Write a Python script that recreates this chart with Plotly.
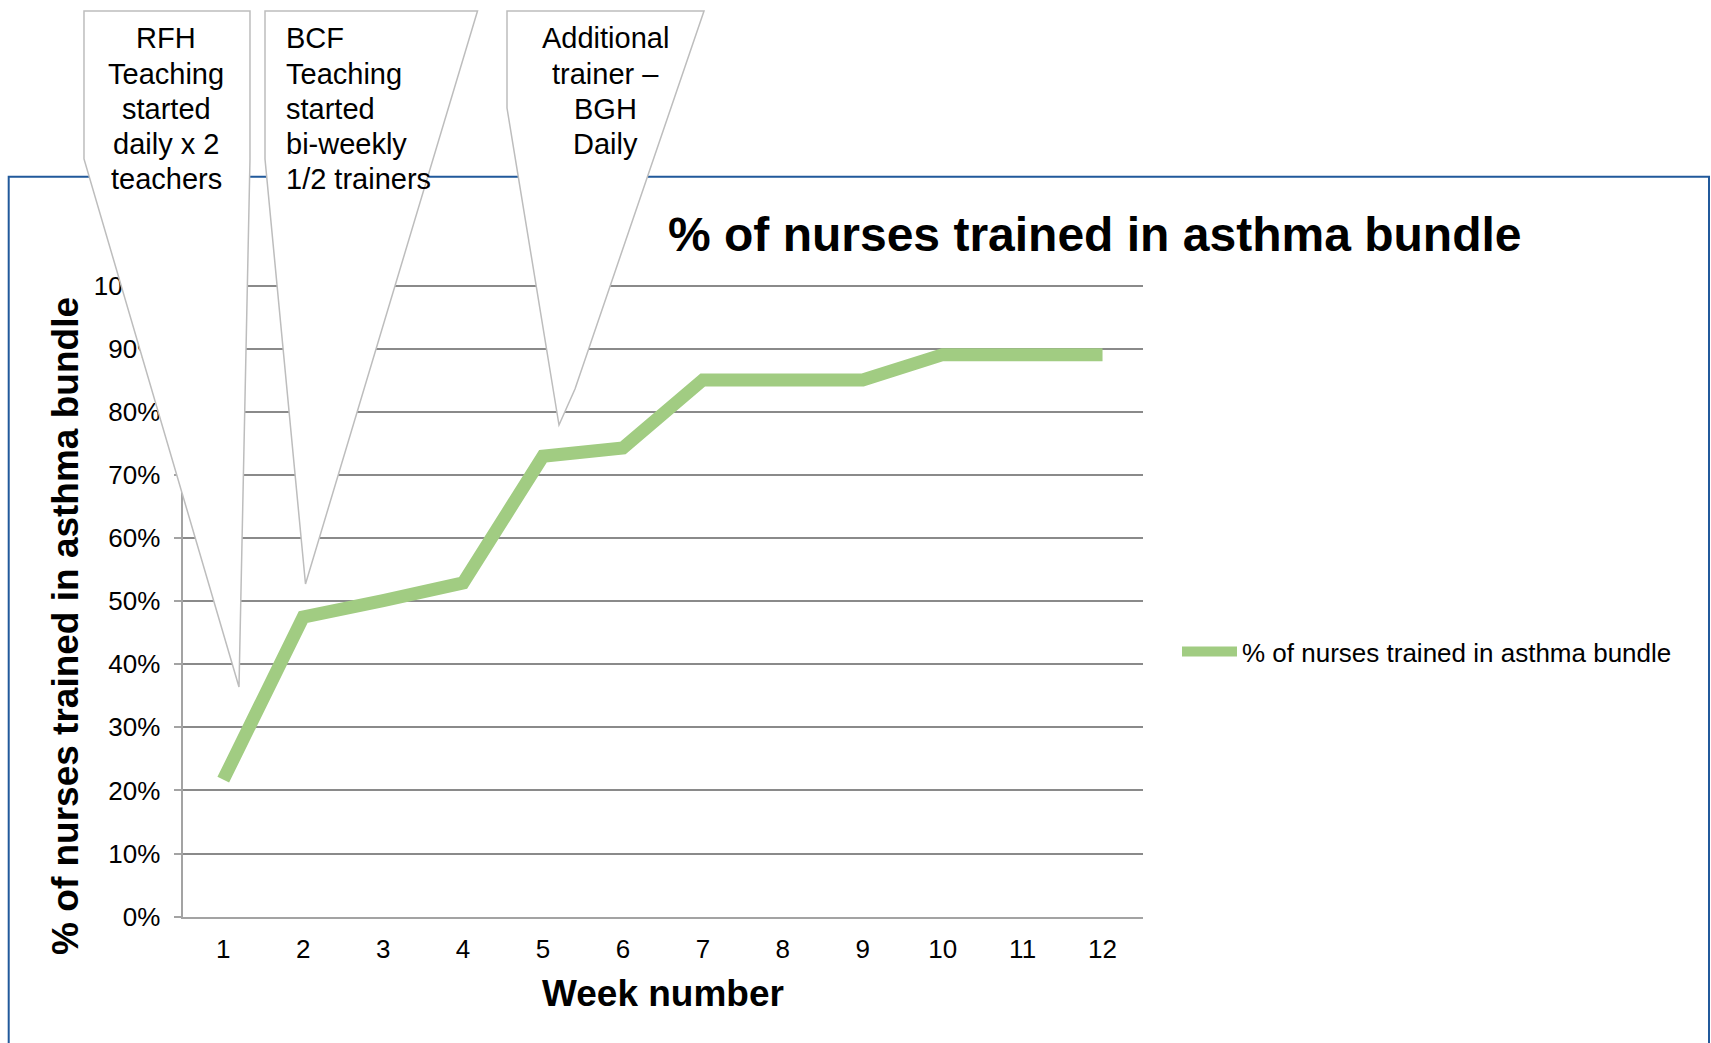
import plotly.graph_objects as go

# ---------------- data ----------------
weeks = list(range(1, 13))
week_labels = [str(w) for w in weeks]
pct_trained = [0.217, 0.475, 0.501, 0.529, 0.730, 0.743,
               0.851, 0.851, 0.851, 0.891, 0.891, 0.891]
series_name = "% of nurses trained in asthma bundle"
y_tick_values = [i / 10 for i in range(11)]

chart_title = "% of nurses trained in asthma bundle"
x_title = "Week number"
y_title = "% of nurses trained in asthma bundle"

callout_rfh = ["RFH", "Teaching", "started", "daily x 2", "teachers"]
callout_bcf = ["BCF", "Teaching", "started", "bi-weekly", "1/2 trainers"]
callout_bgh = ["Additional", "trainer –", "BGH", "Daily"]

# ---------------- layout helpers ----------------
W, H = 1711, 1043
FONT = "Liberation Sans, Arial, Helvetica, sans-serif"


def px(x):
    return x / W


def py(y):
    return 1 - y / H


def path(points):
    return "M " + " L ".join(f"{px(x):.5f},{py(y):.5f}" for x, y in points) + " Z"


GREEN = "#a1cc82"
GRID = "#8a8a8a"
AXIS = "#a3a3a3"
BLUE = "#21599b"
CALLOUT_LINE = "#bdbdbd"

# plot area geometry (pixels)
Y0_PX, Y100_PX = 916.6, 285.9
Y_TOP = 1.002  # small headroom so the 100% gridline is drawn
y_top_px = Y0_PX - (Y0_PX - Y100_PX) * Y_TOP

fig = go.Figure()
fig.add_trace(go.Scatter(
    x=weeks, y=pct_trained, mode="lines", name=series_name,
    line=dict(color=GREEN, width=13),
    showlegend=True,
))

shapes = [
    # outer chart border (blue)
    dict(type="rect", xref="paper", yref="paper",
         x0=px(8.7), x1=px(1709), y0=py(1065), y1=py(176.8),
         line=dict(color=BLUE, width=2), fillcolor="rgba(0,0,0,0)", layer="above"),
    # callouts
    dict(type="path", xref="paper", yref="paper",
         path=path([(84, 11), (250, 11), (250, 159), (239, 687), (84, 159)]),
         line=dict(color=CALLOUT_LINE, width=1.5), fillcolor="white", layer="above"),
    dict(type="path", xref="paper", yref="paper",
         path=path([(265, 11), (477.5, 11), (305.5, 584), (265, 159)]),
         line=dict(color=CALLOUT_LINE, width=1.5), fillcolor="white", layer="above"),
    dict(type="path", xref="paper", yref="paper",
         path=path([(507, 11), (704, 11), (575, 389), (559, 425), (507, 108)]),
         line=dict(color=CALLOUT_LINE, width=1.5), fillcolor="white", layer="above"),
]

annotations = []
line_y0, line_dy = 38.3, 35.3
for i, t in enumerate(callout_rfh):
    annotations.append(dict(text=t, x=px(166), y=py(line_y0 + i * line_dy),
                            xref="paper", yref="paper", xanchor="center", yanchor="middle",
                            showarrow=False, font=dict(size=29, color="black", family=FONT)))
for i, t in enumerate(callout_bcf):
    annotations.append(dict(text=t, x=px(284), y=py(line_y0 + i * line_dy),
                            xref="paper", yref="paper", xanchor="left", yanchor="middle",
                            showarrow=False, font=dict(size=29, color="black", family=FONT)))
for i, t in enumerate(callout_bgh):
    annotations.append(dict(text=t, x=px(605), y=py(line_y0 + i * line_dy),
                            xref="paper", yref="paper", xanchor="center", yanchor="middle",
                            showarrow=False, font=dict(size=29, color="black", family=FONT)))

# titles
annotations.append(dict(text=f"<b>{chart_title}</b>", x=px(1094.5), y=py(234.6),
                        xref="paper", yref="paper", xanchor="center", yanchor="middle",
                        showarrow=False, font=dict(size=48, color="black", family=FONT)))
annotations.append(dict(text=f"<b>{x_title}</b>", x=px(662.9), y=py(993),
                        xref="paper", yref="paper", xanchor="center", yanchor="middle",
                        showarrow=False, font=dict(size=37, color="black", family=FONT)))
annotations.append(dict(text=f"<b>{y_title}</b>", x=px(65.5), y=py(626.4), textangle=-90,
                        xref="paper", yref="paper", xanchor="center", yanchor="middle",
                        showarrow=False, font=dict(size=37, color="black", family=FONT)))

fig.update_layout(
    width=W, height=H,
    margin=dict(l=0, r=0, t=0, b=0, pad=0, autoexpand=False),
    paper_bgcolor="white", plot_bgcolor="white",
    font=dict(family=FONT, color="black"),
    shapes=shapes,
    annotations=annotations,
    legend=dict(x=px(1177), y=py(651.5), xanchor="left", yanchor="middle",
                itemwidth=55,
                font=dict(size=26, color="black", family=FONT),
                bgcolor="rgba(0,0,0,0)"),
    xaxis=dict(
        domain=[px(183.3), px(1142.5)],
        range=[0.5, 12.5],
        automargin=False,
        tickmode="array", tickvals=weeks, ticktext=week_labels,
        showgrid=False, zeroline=False,
        showline=True, linecolor=AXIS, linewidth=1.5,
        ticks="", ticklabelstandoff=8,
        tickfont=dict(size=26, color="black", family=FONT),
    ),
    yaxis=dict(
        domain=[py(Y0_PX), py(y_top_px)],
        range=[0, Y_TOP],
        automargin=False,
        tickmode="array", tickvals=y_tick_values,
        tickformat=".0%",
        showgrid=True, gridcolor=GRID, gridwidth=1.5,
        zeroline=False,
        showline=True, linecolor=AXIS, linewidth=1.5,
        ticks="outside", ticklen=8, tickcolor=AXIS, tickwidth=1.5,
        ticklabelstandoff=8,
        tickfont=dict(size=26, color="black", family=FONT),
    ),
)

fig.write_html("out.html",
               config={"displayModeBar": False},
               post_script="document.body.style.margin='0';document.body.style.overflow='hidden';")
